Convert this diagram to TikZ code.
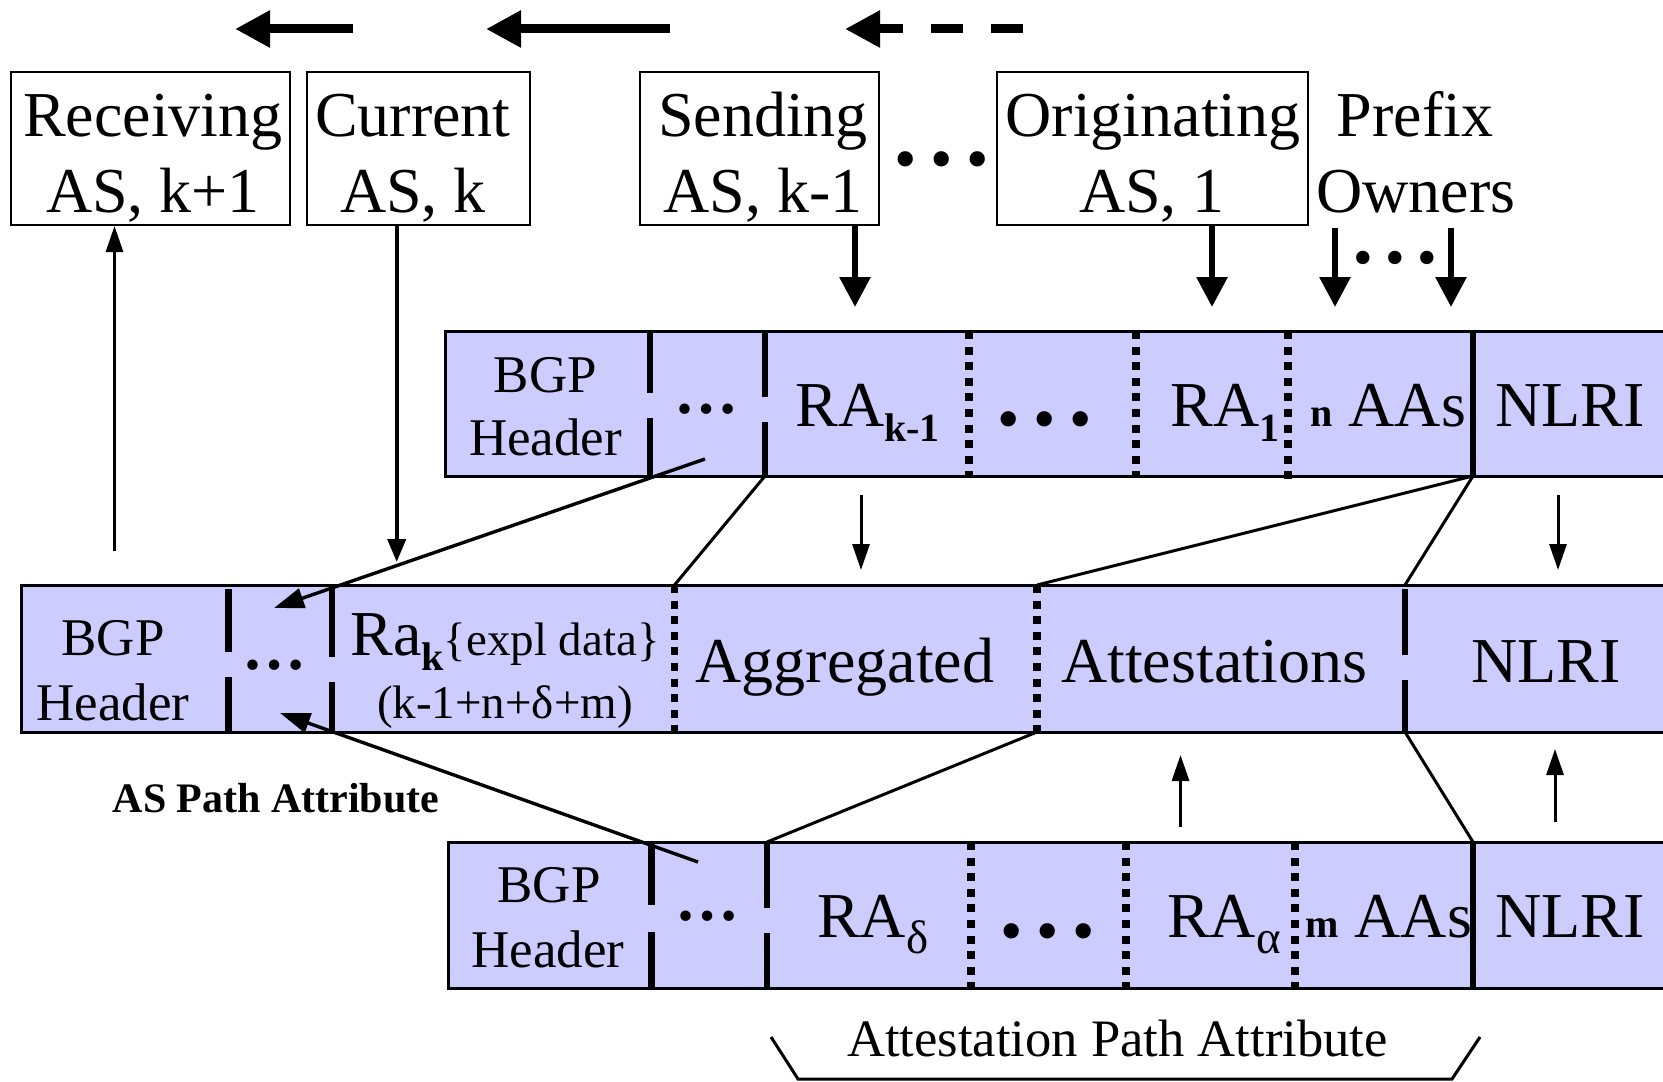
\documentclass[tikz,border=0pt]{standalone}
\usepackage{fontspec}
\setmainfont{Liberation Serif}
\usetikzlibrary{arrows.meta}
\definecolor{barfill}{HTML}{CCCCFF}

\newcommand\fsL{\fontsize{32}{38}\selectfont}
\newcommand\fsM{\fontsize{26.5}{32}\selectfont}
\newcommand\fsS{\fontsize{23.5}{28}\selectfont}
\newcommand\fsSub{\fontsize{20}{24}\selectfont}
\newcommand\fsAttr{\fontsize{21}{25}\selectfont}
\newcommand\fsBrace{\fontsize{26.3}{31}\selectfont}
\newcommand\subdn[1]{\raisebox{-7.5pt}{#1}}
\newcommand\bulletrow[1]{•\hspace{#1}•\hspace{#1}•}

\begin{document}
\begin{tikzpicture}[x=0.5pt,y=-0.5pt,
  asbox/.style={draw, line width=1pt, inner sep=0pt, rectangle},
  bar/.style={draw, line width=1.5pt, fill=barfill},
  solidsep/.style={line width=3.2pt},
  dotsep/.style={line width=3.6pt, dash pattern=on 4pt off 3.8pt},
  lbl/.style={anchor=base, inner sep=0pt, font=\fsL},
  lblw/.style={anchor=base west, inner sep=0pt, font=\fsL},
  bigarrow/.style={line width=4.5pt, -{Triangle[length=17.5pt,width=17.5pt]}},
  feedarrow/.style={line width=3pt, -{Triangle[length=15pt,width=15pt]}},
  curarrow/.style={line width=2pt, -{Triangle[length=11.5pt,width=9pt]}},
  thinarrow/.style={line width=1.5pt, -{Triangle[length=13pt,width=8.5pt]}},
  linkarrow/.style={line width=1.7pt, -{Triangle[length=15pt,width=10pt]}},
  link/.style={line width=1.5pt},
]
\useasboundingbox (0,0) rectangle (1663,1081);
\clip (0,0) rectangle (1663,1081);

% ---------- direction arrows along the AS path ----------
\coordinate (t1a) at (353,29);  \coordinate (t1b) at (235,29);
\coordinate (t2a) at (670,29);  \coordinate (t2b) at (486,29);
\coordinate (t3a) at (1023,29); \coordinate (t3b) at (845,29);
\draw[bigarrow] (t1a) -- (t1b);
\draw[bigarrow] (t2a) -- (t2b);
\draw[bigarrow, dash pattern=on 16pt off 14pt] (t3a) -- (t3b);

% ---------- autonomous systems ----------
\node[asbox, minimum width=139.5pt, minimum height=76.5pt] (recv) at (150,148.5) {};
\node[asbox, minimum width=111.75pt, minimum height=76.5pt] (curr) at (418.25,148.5) {};
\node[asbox, minimum width=119.75pt, minimum height=76.5pt] (send) at (759.25,148.5) {};
\node[asbox, minimum width=155.5pt, minimum height=76.5pt] (orig) at (1152.5,148.5) {};

\node[lbl] (recvA) at (153,136) {Receiving};
\node[lbl] (recvB) at (153,212) {AS, k+1};
\node[lbl] (currA) at (413,136) {Current};
\node[lbl] (currB) at (413,212) {AS, k};
\node[lbl] (sendA) at (763,136) {Sending};
\node[lbl] (sendB) at (763,212) {AS, k-1};
\node[lbl] (origA) at (1153,136) {Originating};
\node[lbl] (origB) at (1152,212) {AS, 1};
\node[lbl] (ownA) at (1415,136) {Prefix};
\node[lbl] (ownB) at (1416,212) {Owners};
\node[lbl, font=\fsL] (asdots) at (942,180) {\bulletrow{6.8pt}};
\node[lbl, font=\fontsize{28}{32}\selectfont] (owndots) at (1395,276) {\bulletrow{6.2pt}};

% ---------- message bars ----------
\draw[bar] (445.5,331) rectangle (1700,476);
\draw[bar] (21,585) rectangle (1700,732);
\draw[bar] (448.6,842) rectangle (1700,988.5);

% upper message: separators
\coordinate (u1) at (650,476);
\coordinate (u2) at (765,476);
\coordinate (u6) at (1473,476);
\draw[solidsep] (650,331) -- (650,393) (650,418) -- (u1);
\draw[solidsep] (765,331) -- (765,397) (765,422) -- (u2);
\draw[dotsep] (969,331) -- (969,476);
\draw[dotsep] (1136,331) -- (1136,476);
\draw[dotsep] (1288,331) -- (1288,482);
\draw[solidsep] (1473,331) -- (u6);

% aggregated message: separators
\coordinate (m1) at (228.5,589);
\coordinate (m2) at (332,589);
\coordinate (m3t) at (674.5,585); \coordinate (m3b) at (674.5,732);
\coordinate (m4t) at (1037,585);  \coordinate (m4b) at (1037,732);
\coordinate (m5t) at (1405,585);  \coordinate (m5b) at (1405,732);
\draw[solidsep] (m1) -- (228.5,652) (228.5,677) -- (228.5,734);
\draw[solidsep] (m2) -- (332,657) (332,682) -- (332,734);
\draw[dotsep] (m3t) -- (m3b);
\draw[dotsep] (m4t) -- (m4b);
\draw[solidsep] (1405,589) -- (1405,655) (1405,680) -- (1405,734);

% lower message: separators
\coordinate (l2) at (767,842);
\coordinate (l6) at (1473,842);
\draw[solidsep] (651.5,843) -- (651.5,905) (651.5,932) -- (651.5,988.5);
\draw[solidsep] (l2) -- (767,908) (767,933) -- (767,988.5);
\draw[dotsep] (971,842) -- (971,988.5);
\draw[dotsep] (1126,842) -- (1126,988.5);
\draw[dotsep] (1295,842) -- (1295,994);
\draw[solidsep] (l6) -- (1473,988.5);

% ---------- feeds from the ASes ----------
\coordinate (recvIn) at (114.5,551);
\coordinate (currOut) at (396.7,562);
\coordinate (sendOut) at (855,307);
\coordinate (origOut) at (1212,307);
\coordinate (ownOutA) at (1335,307);
\coordinate (ownOutB) at (1451,307);
\draw[thinarrow] (recvIn) -- (recv.south -| recvIn);
\draw[curarrow] (curr.south -| currOut) -- (currOut);
\draw[feedarrow] (send.south -| sendOut) -- (sendOut);
\draw[feedarrow] (orig.south -| origOut) -- (origOut);
\draw[feedarrow] (1335,228) -- (ownOutA);
\draw[feedarrow] (1451,228) -- (ownOutB);

% ---------- links between the messages ----------
\coordinate (uDotsFoot) at (705,459);
\coordinate (mDotsIn) at (274,608);
\coordinate (lDotsHead) at (698,862);
\coordinate (mDotsInLow) at (280,713);
\draw[linkarrow] (uDotsFoot) -- (mDotsIn);
\draw[link] (u2) -- (m3t);
\draw[link] (u6) -- (m4t);
\draw[link] (u6) -- (m5t);
\draw[linkarrow] (lDotsHead) -- (mDotsInLow);
\draw[link] (l2) -- (m4b);
\draw[link] (m5b) -- (l6);

\coordinate (dA1) at (861,495);   \coordinate (dA2) at (861,570);
\coordinate (dB1) at (1558,495);  \coordinate (dB2) at (1558,570);
\coordinate (uA1) at (1180.5,827); \coordinate (uA2) at (1180.5,755);
\coordinate (uB1) at (1555,822);  \coordinate (uB2) at (1555,749);
\draw[thinarrow] (dA1) -- (dA2);
\draw[thinarrow] (dB1) -- (dB2);
\draw[thinarrow] (uA1) -- (uA2);
\draw[thinarrow] (uB1) -- (uB2);

% ---------- upper message text ----------
\node[lbl, font=\fsM] (r1bgp) at (545.5,392) {BGP};
\node[lbl, font=\fsM] (r1hdr) at (545.5,455) {Header};
\node[lbl, font=\fsL\bfseries] (r1dots) at (706,413) {…};
\node[lblw] (r1rak) at (795,426) {RA\subdn{\fsSub\bfseries k-1}};
\node[lbl] (r1mid) at (1045,440) {\bulletrow{6.8pt}};
\node[lblw] (r1ra1) at (1170,426) {RA\subdn{\fsSub\bfseries 1}};
\node[lblw] (r1aas) at (1310,426) {{\fsSub\bfseries n} AAs};
\node[lbl] (r1nlri) at (1570,426) {NLRI};

% ---------- aggregated message text ----------
\node[lbl, font=\fsM] (r2bgp) at (113,655) {BGP};
\node[lbl, font=\fsM] (r2hdr) at (113,720) {Header};
\node[lbl, font=\fsL\bfseries] (r2dots) at (274,669) {…};
\node[lblw] (r2ra) at (350,655) {Ra\subdn{\fsSub\bfseries k}{\fsS\{expl data\}}};
\node[lbl, font=\fsS] (r2cnt) at (505,718) {(k-1+n+δ+m)};
\node[lbl] (r2agg) at (845,682) {Aggregated};
\node[lbl] (r2att) at (1214,682) {Attestations};
\node[lbl] (r2nlri) at (1546,682) {NLRI};
\node[lbl, font=\fsAttr\bfseries] (aspath) at (276,812) {AS Path Attribute};

% ---------- lower message text ----------
\node[lbl, font=\fsM] (r3bgp) at (549,902) {BGP};
\node[lbl, font=\fsM] (r3hdr) at (548,967) {Header};
\node[lbl, font=\fsL\bfseries] (r3dots) at (707,920) {…};
\node[lblw] (r3rad) at (816.7,937) {RA\raisebox{-8pt}{\fsS δ}};
\node[lbl] (r3mid) at (1048,952) {\bulletrow{6.8pt}};
\node[lblw] (r3raa) at (1166.7,937) {RA\raisebox{-8pt}{\fsS α}};
\node[lblw] (r3aas) at (1305,937) {{\fsSub\bfseries m} AAs};
\node[lbl] (r3nlri) at (1570,937) {NLRI};

% ---------- attestation path attribute brace ----------
\coordinate (brA) at (771,1037);
\coordinate (brB) at (798,1079);
\coordinate (brC) at (1452,1079);
\coordinate (brD) at (1480,1037);
\draw[line width=1.5pt] (brA) -- (brB) -- (brC) -- (brD);
\node[lbl, font=\fsBrace] (apath) at (1117.5,1056) {Attestation Path Attribute};
\end{tikzpicture}
\end{document}
